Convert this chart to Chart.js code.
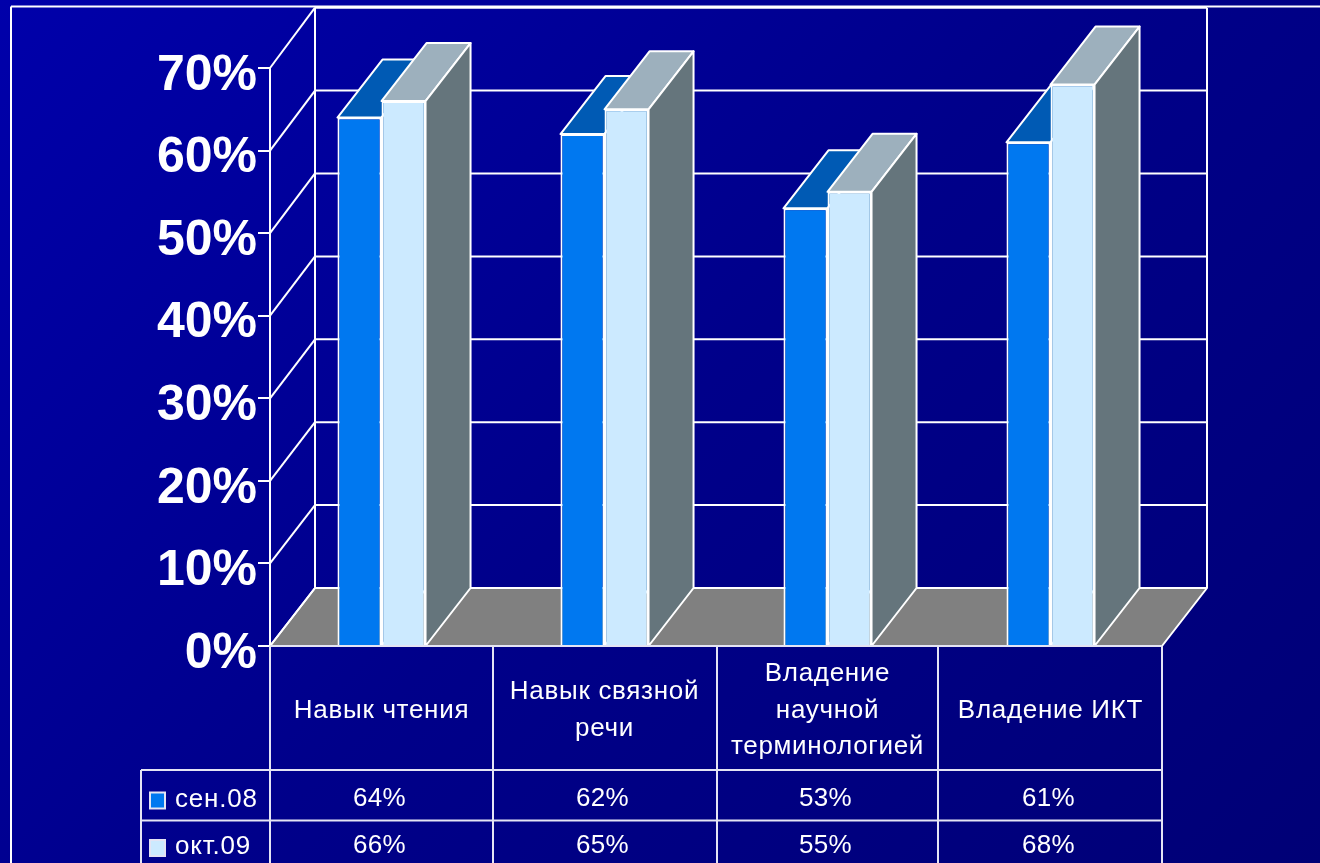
<!DOCTYPE html>
<html>
<head>
<meta charset="utf-8">
<style>
html, body { margin: 0; padding: 0; width: 1320px; height: 863px; overflow: hidden; }
body { background: linear-gradient(135deg, #0000aa 0%, #00008a 50%, #000076 100%); }
canvas { display: block; }
</style>
<script src="https://cdn.jsdelivr.net/npm/chart.js@4/dist/chart.umd.min.js"></script>
</head>
<body>
<canvas id="myChart" width="1320" height="863"></canvas>
<script>
const categories = [
    ["Навык чтения"],
    ["Навык связной", "речи"],
    ["Владение", "научной", "терминологией"],
    ["Владение ИКТ"]
];
const seriesNames = ["сен.08", "окт.09"];
const sep08 = [64, 62, 53, 61];
const oct09 = [66, 65, 55, 68];
const frontColors = ["#0078f0", "#cceaff"];
const topColors = ["#005ab4", "#9db0bd"];
const sideColors = ["#00509e", "#65757c"];

const depthX = 45;
const depthY = 58;
const fontFamily = '"Liberation Sans", Arial, sans-serif';

function poly(ctx, pts, fill) {
    ctx.beginPath();
    pts.forEach((p, i) => i ? ctx.lineTo(p[0], p[1]) : ctx.moveTo(p[0], p[1]));
    ctx.closePath();
    if (fill) {
        ctx.fillStyle = fill;
        ctx.fill();
    }
    ctx.stroke();
}

function line(ctx, x1, y1, x2, y2) {
    ctx.beginPath();
    ctx.moveTo(x1, y1);
    ctx.lineTo(x2, y2);
    ctx.stroke();
}

// the walls, the floor and the depth of the bars go under the normal bars
const walls3d = {
    id: "walls3d",
    beforeDraw(chart) {
        // category labels in the original are spaced a bit wider
        chart.ctx.letterSpacing = "0.7px";
    },
    beforeDatasetsDraw(chart) {
        const ctx = chart.ctx;
        const ys = chart.scales.y;
        const left = chart.chartArea.left;
        const right = chart.chartArea.right;
        const y0 = ys.getPixelForValue(0);
        ctx.save();
        ctx.strokeStyle = "#ffffff";
        ctx.lineWidth = 2;
        ctx.lineJoin = "round";

        // outer frame of the slide
        line(ctx, 11, 6.5, 1320, 6.5);
        line(ctx, 11, 6.5, 11, 863);

        poly(ctx, [[left, y0], [right, y0], [right + depthX, y0 - depthY], [left + depthX, y0 - depthY]], "#808080");

        ys.ticks.forEach((t) => {
            const y = ys.getPixelForValue(t.value);
            const back = y - depthY - t.value / 30;
            line(ctx, left, y, left + depthX, back);
            line(ctx, left + depthX, back, right + depthX, back);
        });
        const topBack = ys.getPixelForValue(70) - depthY - 70 / 30;
        line(ctx, left + depthX, topBack, left + depthX, y0 - depthY);
        line(ctx, right + depthX, topBack, right + depthX, y0 - depthY);

        chart.data.datasets.forEach((ds, d) => {
            chart.getDatasetMeta(d).data.forEach((bar) => {
                const x1 = bar.x - bar.width / 2;
                const x2 = bar.x + bar.width / 2;
                poly(ctx, [[x1, bar.y], [x2, bar.y], [x2 + depthX, bar.y - depthY], [x1 + depthX, bar.y - depthY]], topColors[d]);
                poly(ctx, [[x2, bar.y], [x2, y0], [x2 + depthX, y0 - depthY], [x2 + depthX, bar.y - depthY]], sideColors[d]);
            });
        });
        ctx.restore();
    },
    afterDraw(chart) {
        const ctx = chart.ctx;
        const xs = chart.scales.x;
        const ys = chart.scales.y;
        const y0 = ys.getPixelForValue(0);
        const rowLines = [770, 820.5];
        const rowText = [799.5, 847];
        const colLines = [270, 493, 717, 938, 1162];
        const legendLeft = 141;
        ctx.save();
        ctx.letterSpacing = "0px";

        // value labels sit lower than the ticks in the original
        ctx.font = "bold 50px " + fontFamily;
        ctx.fillStyle = "#ffffff";
        ctx.textAlign = "right";
        ctx.textBaseline = "middle";
        ys.ticks.forEach((t) => {
            ctx.fillText(t.value + "%", 257, ys.getPixelForValue(t.value) + 8);
        });

        ctx.strokeStyle = "#e4e4f4";
        ctx.lineWidth = 2;
        colLines.forEach((x) => line(ctx, x, y0, x, 863));
        line(ctx, colLines[0], y0, colLines[4], y0);
        rowLines.forEach((y) => line(ctx, legendLeft, y, colLines[4], y));
        line(ctx, legendLeft, rowLines[0], legendLeft, 863);

        ctx.font = "26px " + fontFamily;
        chart.data.datasets.forEach((ds, d) => {
            ctx.textAlign = "left";
            ctx.fillStyle = "#ffffff";
            ctx.letterSpacing = "0.8px";
            ctx.fillText(ds.label, 175, rowText[d]);
            ctx.letterSpacing = "0.4px";
            ctx.textAlign = "center";
            ds.data.forEach((v, i) => {
                ctx.fillText(v + "%", xs.getPixelForTick(i) - 2, rowText[d] - 1);
            });
            ctx.letterSpacing = "0px";
            ctx.fillStyle = frontColors[d];
            ctx.fillRect(150, rowText[d] - 7, 15, 16);
            ctx.strokeRect(150, rowText[d] - 7, 15, 16);
        });
        ctx.restore();
    }
};

new Chart(document.getElementById("myChart"), {
    type: "bar",
    data: {
        labels: categories,
        datasets: [
            { label: seriesNames[0], data: sep08, backgroundColor: frontColors[0], borderColor: "#ffffff", borderWidth: 2 },
            { label: seriesNames[1], data: oct09, backgroundColor: frontColors[1], borderColor: "#ffffff", borderWidth: 2 }
        ]
    },
    options: {
        responsive: false,
        animation: false,
        devicePixelRatio: 1,
        layout: { padding: { left: 0, top: 68, right: 158, bottom: 0 } },
        plugins: { legend: { display: false }, tooltip: { enabled: false } },
        datasets: { bar: { categoryPercentage: 0.395, barPercentage: 1 } },
        scales: {
            x: {
                afterFit(scale) { scale.height = 217; },
                grid: { display: false },
                border: { display: false },
                ticks: {
                    color: "#ffffff",
                    maxRotation: 0,
                    autoSkip: false,
                    padding: 20,
                    crossAlign: "center",
                    font: { family: fontFamily, size: 26, lineHeight: 1.4 }
                }
            },
            y: {
                min: 0,
                max: 70,
                afterFit(scale) { scale.width = 270; },
                grid: { drawOnChartArea: false, drawTicks: true, tickLength: 12, color: "#ffffff", lineWidth: 2 },
                border: { display: true, color: "#ffffff", width: 2 },
                ticks: { stepSize: 10, display: false }
            }
        }
    },
    plugins: [walls3d]
});
</script>
</body>
</html>
